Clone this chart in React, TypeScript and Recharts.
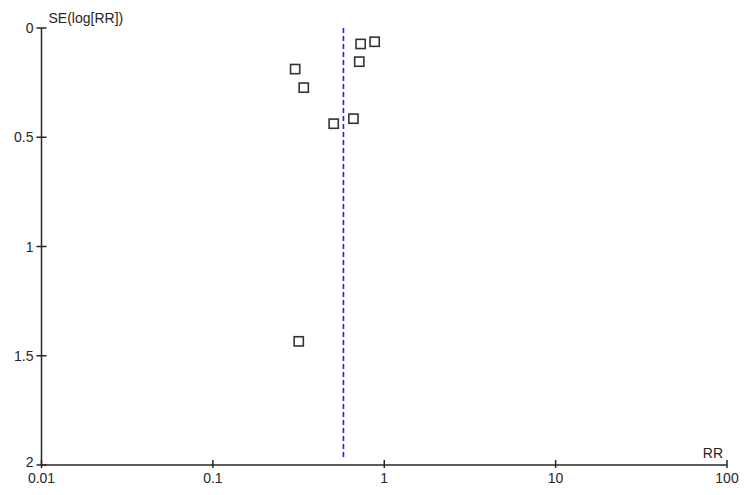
import React from 'react';
import {
  ScatterChart,
  Scatter,
  XAxis,
  YAxis,
  ReferenceLine,
  Label,
} from 'recharts';

document.body.style.margin = '0';

// Risk ratios and their standard errors
const rrValues = [0.302, 0.339, 0.728, 0.879, 0.715, 0.661, 0.507, 0.317];
const seValues = [0.188, 0.273, 0.073, 0.063, 0.154, 0.415, 0.438, 1.434];
const xTicks = [0.01, 0.1, 1, 10, 100];
const yTicks = [0, 0.5, 1, 1.5, 2];
const pooledRR = 0.578;
const pooledLineEnd = 1.97;

const points = rrValues.map((rr, i) => ({ rr, se: seValues[i] }));

const FONT = '"Liberation Sans", Arial, sans-serif';
const INK = '#262626';

const XTick = (props: any) => {
  const { x, y, payload } = props;
  return (
    <g>
      <line x1={x} x2={x} y1={y - 5} y2={y + 3} stroke={INK} strokeWidth={1.5} />
      <text x={x} y={y + 18} textAnchor="middle" fontSize={14} fontFamily={FONT} fill={INK}>
        {String(payload.value)}
      </text>
    </g>
  );
};

const YTick = (props: any) => {
  const { x, y, payload } = props;
  // the bottom label sits a little higher so it clears "0.01"
  const dy = payload.value === 2 ? 2 : 5;
  return (
    <g>
      <line x1={x - 5} x2={x + 5} y1={y} y2={y} stroke={INK} strokeWidth={1.5} />
      <text x={x - 8} y={y + dy} textAnchor="end" fontSize={14} fontFamily={FONT} fill={INK}>
        {String(payload.value)}
      </text>
    </g>
  );
};

const SquareDot = (props: any) => {
  const { cx, cy } = props;
  return (
    <rect x={cx - 4.6} y={cy - 4.6} width={9.2} height={9.2} fill="none" stroke="#333" strokeWidth={1.6} />
  );
};

export default function App() {
  return (
    <div style={{ width: 750, height: 495, background: '#fff' }}>
      <ScatterChart width={750} height={495} margin={{ top: 28, right: 23, bottom: 0, left: 0 }}>
        <XAxis
          type="number"
          dataKey="rr"
          scale="log"
          domain={[0.01, 100]}
          ticks={xTicks}
          allowDataOverflow
          height={30}
          tickSize={0}
          tickMargin={0}
          tickLine={false}
          axisLine={{ stroke: INK, strokeWidth: 1.5 }}
          tick={<XTick />}
          interval={0}
        >
          <Label
            content={(p: any) => {
              const { x, y, width } = p.viewBox;
              return (
                <text x={x + width - 4} y={y - 7} textAnchor="end" fontSize={14} fontFamily={FONT} fill={INK}>
                  RR
                </text>
              );
            }}
          />
        </XAxis>
        <YAxis
          type="number"
          dataKey="se"
          domain={[0, 2]}
          ticks={yTicks}
          reversed
          width={41.5}
          tickSize={0}
          tickMargin={0}
          tickLine={false}
          axisLine={{ stroke: INK, strokeWidth: 1.5 }}
          tick={<YTick />}
          interval={0}
        >
          <Label
            content={(p: any) => {
              const { x, y, width } = p.viewBox;
              return (
                <text x={x + width + 7} y={y - 5} fontSize={14} fontFamily={FONT} fill={INK}>
                  SE(log[RR])
                </text>
              );
            }}
          />
        </YAxis>
        <ReferenceLine
          segment={[
            { x: pooledRR, y: 0 },
            { x: pooledRR, y: pooledLineEnd },
          ]}
          stroke="#2020f0"
          strokeWidth={1.6}
          strokeDasharray="5 3"
        />
        <Scatter data={points} shape={<SquareDot />} isAnimationActive={false} />
      </ScatterChart>
    </div>
  );
}
